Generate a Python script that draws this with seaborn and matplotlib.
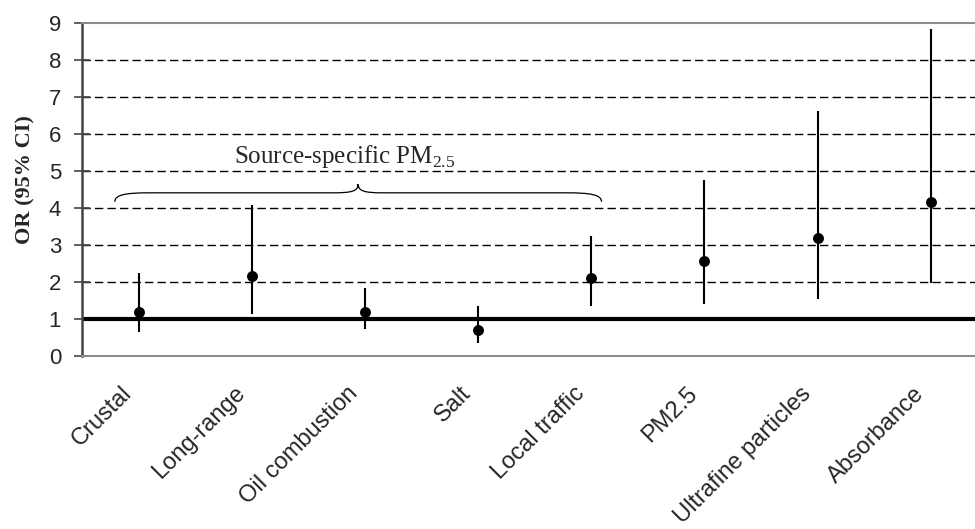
import numpy as np
import pandas as pd
import matplotlib
matplotlib.use("Agg")
import matplotlib.pyplot as plt
import matplotlib.transforms as mtransforms
from matplotlib.path import Path
from matplotlib.patches import PathPatch
import seaborn as sns

# --- datos ---
categories = ["Crustal", "Long-range", "Oil combustion", "Salt", "Local traffic",
              "PM2.5", "Ultrafine particles", "Absorbance"]
odds_ratio = [1.20, 2.16, 1.20, 0.70, 2.10, 2.58, 3.20, 4.17]
ci_lower = [0.64, 1.13, 0.72, 0.36, 1.35, 1.40, 1.54, 1.96]
ci_upper = [2.25, 4.08, 1.85, 1.36, 3.23, 4.77, 6.62, 8.85]
y_ticks = [0, 1, 2, 3, 4, 5, 6, 7, 8, 9]

df = pd.DataFrame({"source": categories, "OR": odds_ratio,
                   "lo": ci_lower, "hi": ci_upper})

sns.set_theme(style="white")
plt.rcParams["font.family"] = ["Liberation Sans", "DejaVu Sans"]
plt.rcParams["mathtext.fontset"] = "custom"
plt.rcParams["mathtext.rm"] = "Liberation Serif"

fig = plt.figure(figsize=(9.75, 5.29), dpi=100)
ax = fig.add_axes([82 / 975, 1 - 356 / 529, 1 - 82 / 975, 333 / 529])

# lineas de la rejilla (discontinuas) y linea de referencia OR = 1
for t in y_ticks[1:-1]:
    ax.axhline(t, color="black", lw=1.0, ls=(0, (6, 3)), zorder=0)
ax.axhline(1, color="black", lw=3.0, zorder=1)

# intervalos de confianza y puntos
ax.vlines(df.index, df["lo"], df["hi"], color="black", lw=1.5, zorder=2)
sns.scatterplot(data=df, x="source", y="OR", ax=ax, color="black", s=62,
                linewidth=0, zorder=3, legend=False)

ax.set_xlim(-0.5, 7.39)
ax.set_ylim(0, 9)
ax.set_yticks(y_ticks)
ax.set_yticklabels([str(t) for t in y_ticks], fontsize=16)
ax.set_xticks(range(len(categories)))
ax.set_xticklabels(categories, fontsize=17, rotation=45, ha="right",
                   rotation_mode="anchor")
ax.tick_params(axis="x", length=0, pad=14)
ax.tick_params(axis="y", direction="inout", length=12, width=1.2,
               color="#444444", pad=9, left=True)

# desplazar las etiquetas del eje x un poco a la izquierda y abajo
offset = mtransforms.ScaledTranslation(-0.18, -0.07, fig.dpi_scale_trans)
for lab in ax.get_xticklabels():
    lab.set_transform(lab.get_transform() + offset)

ax.set_xlabel("")
ax.set_ylabel("OR (95% CI)", fontsize=16, fontweight="bold",
              family="Liberation Serif")
ax.yaxis.set_label_coords(-0.052, 0.53)

for side in ["top", "bottom"]:
    ax.spines[side].set_color("#8c8c8c")
    ax.spines[side].set_linewidth(1.5)
ax.spines["left"].set_color("#444444")
ax.spines["left"].set_linewidth(1.8)
ax.spines["right"].set_visible(False)

# llave sobre las fuentes especificas
x0, x1, xc = -0.21, 4.09, 1.94
ye, yf, yt = 4.17, 4.41, 4.65
verts = [(x0, ye), (x0, yf - 0.05), (x0 + 0.1, yf), (x0 + 0.3, yf),
         (xc - 0.22, yf),
         (xc - 0.05, yf), (xc, yf + 0.05), (xc, yt),
         (xc, yf + 0.05), (xc + 0.05, yf), (xc + 0.22, yf),
         (x1 - 0.3, yf),
         (x1 - 0.1, yf), (x1, yf - 0.05), (x1, ye)]
codes = [Path.MOVETO, Path.CURVE4, Path.CURVE4, Path.CURVE4,
         Path.LINETO,
         Path.CURVE4, Path.CURVE4, Path.CURVE4,
         Path.CURVE4, Path.CURVE4, Path.CURVE4,
         Path.LINETO,
         Path.CURVE4, Path.CURVE4, Path.CURVE4]
ax.add_patch(PathPatch(Path(verts, codes), fill=False, color="black", lw=0.9))
ax.text(1.82, 5.38, r"Source-specific PM$_{\mathrm{2.5}}$", fontsize=18,
        family="Liberation Serif", ha="center", va="center")

fig.savefig("out.png", dpi=100)
